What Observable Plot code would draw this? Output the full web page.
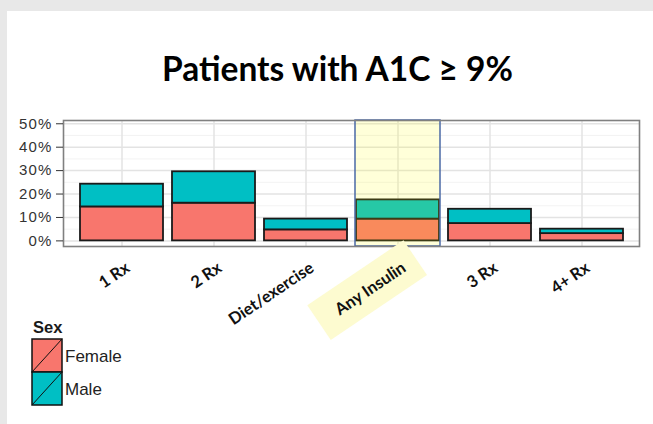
<!DOCTYPE html>
<html><head><meta charset="utf-8">
<script src="https://cdn.jsdelivr.net/npm/d3@7"></script>
<script src="https://cdn.jsdelivr.net/npm/@observablehq/plot@0.6"></script>
<style>
html,body{margin:0;padding:0;background:#e8e8e8;width:653px;height:424px;overflow:hidden;position:relative;}
#page{position:absolute;left:7px;top:11px;right:0;bottom:0;background:#fff;}
#chart{position:absolute;left:0;top:0;}
#title{position:absolute;left:22px;width:631px;top:52px;text-align:center;font-family:Lato;font-weight:700;font-size:33.5px;line-height:32px;color:#000;}
#legend{position:absolute;left:20px;top:310px;}
</style></head><body>
<div id="page"></div>
<div id="chart"></div>
<div id="title">Patients with A1C ≥ 9%</div>
<div id="legend"></div>
<script>
const categories = ["1 Rx", "2 Rx", "Diet/exercise", "Any Insulin", "3 Rx", "4+ Rx"];
const sexes = ["Female", "Male"];
const female = [14.5, 16.1, 4.7, 9.3, 7.4, 3.1];
const male = [9.7, 13.4, 4.6, 8.2, 6.1, 1.9];
const yTicks = [0, 10, 20, 30, 40, 50];
const yMinorTicks = [5, 15, 25, 35, 45];
const highlighted = "Any Insulin";
const colors = ["#F8766D", "#00BFC4"];
const yDomain = [-2.4, 51.4];

const rows = categories.flatMap((c, i) => [
  {category: c, sex: "Female", value: female[i]},
  {category: c, sex: "Male", value: male[i]}
]);

const plot = Plot.plot({
  width: 653, height: 424,
  marginLeft: 63, marginRight: 14, marginTop: 120, marginBottom: 178,
  style: {background: "transparent", overflow: "visible"},
  x: {domain: categories, paddingInner: 0.1, paddingOuter: 0.15, axis: null},
  y: {domain: yDomain, axis: null},
  color: {domain: sexes, range: colors},
  marks: [
    Plot.gridY(yMinorTicks, {stroke: "#f0f0f0", strokeOpacity: 1, strokeWidth: 0.8}),
    Plot.gridY(yTicks, {stroke: "#e3e3e3", strokeOpacity: 1, strokeWidth: 1.5}),
    Plot.gridX(categories, {stroke: "#e3e3e3", strokeOpacity: 1, strokeWidth: 1.5}),
    Plot.barY(rows, {x: "category", y: "value", fill: "sex", stroke: "#1a1a1a", strokeWidth: 1.8}),
    Plot.barY([highlighted], {x: d => d, y1: yDomain[0], y2: yDomain[1], fill: "#ffff00", fillOpacity: 0.15, stroke: "#4b6aa6", strokeWidth: 1.5, insetLeft: -1, insetRight: -1}),
    Plot.frame({stroke: "#808080", strokeWidth: 1.6}),
    Plot.axisY(yTicks, {label: null, tickFormat: d => d + "%", tickSize: 7, tickPadding: 4, fontSize: 15, fontFamily: "Liberation Sans", color: "#333"}),
    Plot.text(categories, {x: d => d, frameAnchor: "bottom", dy: 24, dx: 9, rotate: -34, textAnchor: "end", fontFamily: "Lato", fontWeight: 700, fontSize: 16.5, fill: "#111"})
  ]
});
document.getElementById("chart").appendChild(plot);

// letter spacing for y tick labels (stretched look of the original)
d3.select(plot).selectAll("g[aria-label='y-axis tick label'] text").attr("letter-spacing", 1.2);

// yellow highlight behind the highlighted category label
d3.select(plot).selectAll("g[aria-label='text'] text").each(function() {
  if (this.textContent !== highlighted) return;
  const bb = this.getBBox();
  const r = document.createElementNS("http://www.w3.org/2000/svg", "rect");
  r.setAttribute("x", bb.x - 20);
  r.setAttribute("y", bb.y - 11);
  r.setAttribute("width", bb.width + 34);
  r.setAttribute("height", bb.height + 22);
  r.setAttribute("fill", "#fdfbd0");
  const t = this.getAttribute("transform");
  if (t) r.setAttribute("transform", t);
  this.parentNode.insertBefore(r, this);
});

// legend
const color = plot.scale("color");
const lg = d3.select("#legend").append("svg").attr("width", 130).attr("height", 110);
lg.append("text").attr("x", 13).attr("y", 23).text("Sex")
  .attr("font-family", "Liberation Sans").attr("font-weight", 700).attr("font-size", 16.5).attr("fill", "#1a1a1a");
sexes.forEach((s, i) => {
  const y0 = 29 + i * 33;
  lg.append("rect").attr("x", 12).attr("y", y0).attr("width", 30).attr("height", 33)
    .attr("fill", color.apply(s)).attr("stroke", "#111").attr("stroke-width", 1.5);
  lg.append("line").attr("x1", 12).attr("y1", y0 + 33).attr("x2", 42).attr("y2", y0)
    .attr("stroke", "#111").attr("stroke-width", 1);
  lg.append("text").attr("x", 45).attr("y", y0 + 16.5).attr("dy", "0.36em").text(s)
    .attr("font-family", "Liberation Sans").attr("font-size", 17).attr("fill", "#222");
});
</script>
</body></html>
